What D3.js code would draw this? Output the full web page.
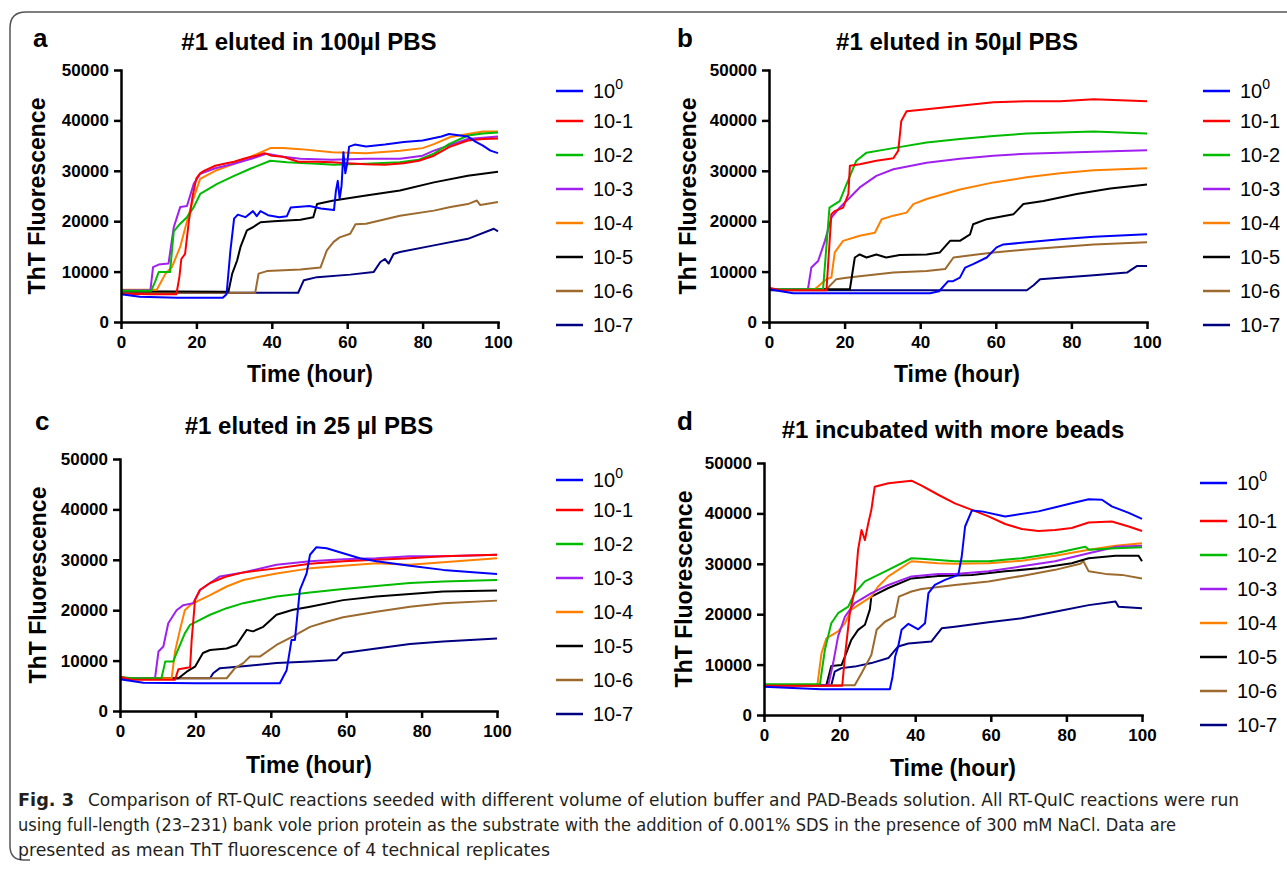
<!DOCTYPE html>
<html>
<head>
<meta charset="utf-8">
<style>
body { margin: 0; background: #fff; }
svg { display: block; }
</style>
</head>
<body>
<svg width="1287" height="871"></svg>
<script src="https://cdn.jsdelivr.net/npm/d3@7"></script>
<script>

var svg = d3.select("svg"),
    FONT = "'Liberation Sans', Arial, Helvetica, sans-serif",
    CAPTION_FONT = "'Liberation Sans Narrow', 'DejaVu Sans Condensed', 'Liberation Sans', sans-serif";

// legend order: 10^0, 10-1 ... 10-7
var doses = ["10", "10-1", "10-2", "10-3", "10-4", "10-5", "10-6", "10-7"],
    colors = ["#0000ff", "#ff0000", "#00bb00", "#a020f0", "#ff8000", "#000000", "#9c6a2e", "#000080"],
    xTicks = [0, 20, 40, 60, 80, 100],
    yTicks = [0, 10000, 20000, 30000, 40000, 50000],
    titles = ["#1 eluted in 100\u00b5l PBS", "#1 eluted in 50\u00b5l PBS",
              "#1 eluted in 25 \u00b5l PBS", "#1 incubated with more beads"];

// [hour, ThT fluorescence]
var panelA = [
  [[0,5500],[5,5000],[15,4800],[27,4800],[28,5500],[29,14000],[30,20500],[31,21300],[33,20800],[35,22000],[36,21000],[37,22000],[39,21200],[42,20800],[44,21000],[45,22700],[50,23000],[53,22500],[56.5,22200],[57,26000],[57.5,28000],[58,24500],[58.5,27000],[59,33700],[59.5,29500],[60,31500],[60.5,34800],[62,35200],[65,34800],[70,35200],[75,35700],[80,36000],[85,36800],[87,37300],[90,37000],[92,36800],[94,35800],[96,35000],[98,34000],[100,33500]],
  [[0,5600],[8,5500],[14.7,5500],[15.5,9000],[16,12500],[17,13500],[18,20000],[19,25000],[20,28500],[21,29500],[22,30000],[25,31000],[28,31500],[30,31800],[33,32500],[36,33000],[38,33500],[40,33000],[43,32800],[47,31800],[52,31800],[56,31700],[60,31500],[65,31300],[70,31200],[75,31500],[79,32000],[83,33000],[87,34700],[92,36000],[96,36300],[100,36400]],
  [[0,6200],[8,6200],[9,7900],[10,9900],[13,9900],[14,18000],[15.7,19500],[17.5,20800],[19.3,22800],[21,25400],[25.5,27400],[30,29000],[34.3,30400],[39.6,32000],[44,31700],[52,31400],[56.4,31200],[65,31400],[74,31700],[79,32200],[83,33400],[87,35300],[92,37000],[96,37400],[100,37600]],
  [[0,6300],[7.8,6300],[8.5,10900],[10,11400],[12.6,11600],[14,18800],[15.7,22800],[17.5,23000],[19.3,27400],[21,29400],[25,30500],[30,31400],[35,32500],[38.7,33400],[43,32800],[47.6,32400],[56,32200],[65,32400],[74,32400],[80,33000],[83,34000],[88,35300],[92,36300],[100,36800]],
  [[0,6400],[9.5,6400],[11.8,9600],[13.5,10900],[15.7,14900],[17.5,20000],[19,24000],[21,28400],[25,30000],[30,31400],[35,33000],[39.6,34500],[43,34500],[47.6,34300],[56,33700],[65,33500],[74,34000],[80,34500],[83,35300],[87.4,36700],[92,37300],[96,37800],[100,37800]],
  [[0,6100],[28.5,6000],[29.5,9600],[30.8,12200],[31.7,14900],[33.4,18200],[35,18800],[37,19800],[40.5,20000],[47.6,20300],[51,20800],[52,23400],[56.4,24100],[65,25100],[74,26100],[83,27700],[92,29000],[100,29800]],
  [[0,5800],[35.6,5800],[36.5,9600],[38.7,10100],[47.6,10400],[52.9,10800],[54.6,14200],[56.4,15900],[58,16800],[60.8,17500],[62.2,19400],[65,19500],[74,21100],[83,22100],[87.4,22800],[92,23400],[94.4,24100],[95.3,23200],[100,23800]],
  [[0,5800],[47,5800],[48.5,8300],[52,8900],[60.8,9400],[67,9900],[68.8,11900],[70,12500],[71,11600],[72.3,13500],[74,13900],[83,15200],[92,16500],[98.9,18500],[100,18000]]
];

var panelB = [
  [[0,6500],[6.4,5700],[20,5700],[42.6,5700],[45,6100],[47.4,8100],[48.7,8100],[50.5,8800],[51.9,10800],[54,11500],[57.6,12800],[60.2,14800],[62,15400],[68.2,15800],[77,16400],[85.9,16900],[100,17400]],
  [[0,6800],[3,6300],[15.2,6300],[16.5,21400],[17.4,22000],[19.6,22700],[21,25400],[21.4,31000],[24,31300],[28.4,32000],[32.9,32500],[34.2,34000],[35,39900],[36.4,41800],[41.7,42200],[50.5,42900],[59.4,43600],[68.2,43800],[77,43800],[85.9,44200],[100,43800]],
  [[0,6500],[14.3,6500],[16,22700],[18.7,24000],[20.5,27300],[23.1,32000],[25.8,33600],[32.9,34500],[41.7,35600],[50.5,36300],[59.4,36900],[68.2,37400],[77,37600],[85.9,37800],[100,37400]],
  [[0,6500],[10.3,6500],[11.2,10800],[13,12100],[14.8,16100],[16.5,20700],[18.7,22700],[21.4,24700],[24,26700],[28.4,29000],[32.9,30300],[41.7,31600],[50.5,32400],[59.4,33000],[68.2,33400],[77,33600],[85.9,33800],[100,34100]],
  [[0,6500],[12.1,6500],[15.2,8500],[16.5,8800],[17.4,13800],[19.6,16100],[24,17100],[28,17700],[29.8,20400],[32.9,21100],[36.4,21700],[38.2,23400],[41.7,24400],[50.5,26300],[59.4,27700],[68.2,28700],[77,29500],[85.9,30100],[100,30500]],
  [[0,6500],[21.4,6500],[22.7,12800],[24,13400],[25.8,12800],[28.4,13400],[31,12800],[34.6,13300],[41.7,13400],[45.2,13800],[47.9,16100],[50.5,16100],[53.2,17400],[54,19400],[57.6,20400],[64.7,21400],[67.3,23400],[72.6,24000],[81.4,25400],[90.3,26500],[100,27300]],
  [[0,6500],[15.2,6500],[17.8,8500],[20.5,8800],[24,9100],[32.9,9800],[41.7,10100],[46.6,10500],[48.8,12800],[55,13400],[59.4,13800],[68.2,14400],[77,14900],[85.9,15400],[100,15800]],
  [[0,6300],[68.2,6300],[70,7300],[71.7,8500],[77,8800],[85.9,9300],[94.7,9800],[97.3,11100],[100,11100]]
];

var panelC = [
  [[0,6300],[6.2,5600],[20,5500],[42.4,5500],[44.2,8100],[45.5,14100],[46.4,14100],[47.7,24000],[49.5,27300],[50.4,31000],[52.1,32500],[54.8,32300],[59.2,31300],[63.6,30300],[68,29700],[76.9,28800],[85.7,28000],[94.5,27500],[100,27200]],
  [[0,6800],[3,6200],[14.6,6200],[15.5,8300],[18.6,8700],[19,14000],[19.9,22000],[21.2,24000],[23.9,25400],[28.3,26700],[32.7,27500],[41.5,28300],[50.4,29200],[59.2,29700],[68,30000],[76.9,30300],[85.7,30700],[100,31000]],
  [[0,6800],[3,6500],[11,6500],[12,9800],[14.1,9800],[15,11500],[17.2,15400],[18.6,17100],[21.2,18100],[23.9,19100],[28.3,20400],[32.7,21400],[41.5,22700],[50.4,23500],[59.2,24200],[68,24800],[76.9,25400],[85.7,25700],[100,26000]],
  [[0,6500],[9.3,6500],[10.2,11800],[11.5,12800],[12.8,17400],[15,20000],[16.8,21000],[19.4,21400],[21.2,24000],[23.9,25400],[26.5,26700],[32.7,27500],[41.5,29000],[50.4,29700],[59.2,30100],[68,30300],[76.9,30700],[85.7,30700],[100,31000]],
  [[0,6500],[13.7,6500],[14.6,11800],[15.9,16100],[17.2,20000],[18.6,21000],[20.3,21700],[23.9,23000],[28.3,24700],[32.7,26000],[41.5,27300],[50.4,28300],[59.2,28800],[68,29300],[76.9,29000],[85.7,29500],[100,30300]],
  [[0,6500],[15.5,6500],[17.7,7800],[19.9,8800],[22,11500],[23.9,12100],[28.3,12400],[30.9,13100],[33.6,16100],[35.3,15800],[38,16700],[41.5,19100],[45.9,20100],[50.4,20700],[59.2,22000],[68,22700],[76.9,23200],[85.7,23700],[100,23900]],
  [[0,6500],[28.3,6500],[30.5,8500],[32.7,9500],[34.5,10800],[37.1,10800],[41.5,13100],[45.9,14800],[50.4,16700],[54.8,17700],[59.2,18600],[68,19700],[76.9,20700],[85.7,21400],[100,21900]],
  [[0,6500],[23.9,6500],[24.7,7500],[26.5,8500],[32.7,8900],[41.5,9500],[50.4,9800],[57.4,10100],[59.2,11500],[68,12400],[76.9,13300],[85.7,13800],[100,14400]]
];

var panelD = [
  [[0,5600],[15.2,5100],[33.3,5100],[34,7600],[34.7,11600],[35.5,13600],[36.4,16900],[38.2,18100],[40.8,17000],[42.6,18200],[43.5,24200],[45.2,25800],[47.9,26800],[51.4,27800],[52.3,31400],[53.2,37400],[55,40600],[57.6,40400],[63.8,39400],[72.6,40400],[81.4,42000],[85.9,42800],[89.4,42700],[92,41400],[96.5,40100],[100,38900]],
  [[0,5800],[20.7,5800],[21.4,11600],[22.7,20200],[24,24800],[24.9,32800],[25.8,36700],[26.7,34700],[27.6,38100],[28.4,40700],[29.3,45300],[32.9,46000],[39,46500],[41.7,45500],[46.1,43700],[50.5,42000],[55,40700],[59.4,39400],[63.8,37900],[68.2,36900],[72.6,36500],[77,36700],[81.4,37100],[85.9,38200],[92,38400],[96.5,37400],[100,36500]],
  [[0,6100],[14.8,6100],[16.1,12900],[17.8,18200],[19.6,20200],[22.3,21500],[24,24200],[26.7,26500],[32.9,28800],[39,31100],[41.7,31000],[50.5,30500],[59.4,30500],[68.2,31100],[77,32100],[85,33400],[86,32800],[93,33100],[100,33300]],
  [[0,5900],[17,5900],[18.3,10300],[19.6,15600],[21.4,19500],[24,22200],[28.4,24200],[32.9,25800],[39,27500],[46.1,28000],[50.5,28000],[59.4,28500],[68.2,29500],[77,30500],[85.9,32100],[93.3,33400],[100,33600]],
  [[0,5900],[14.1,5900],[15.2,12200],[16.5,15200],[19.6,16600],[21.4,18200],[23.1,20900],[28.4,23500],[30.2,25500],[32.9,27500],[39,30500],[46.1,30100],[50.5,30000],[59.4,30100],[68.2,30600],[77,31600],[85.9,32800],[93,33600],[100,34100]],
  [[0,5900],[16.5,5900],[17.8,9700],[20.5,9900],[21.4,11600],[23.1,14900],[24.9,16900],[26.7,17900],[28,20900],[28.4,23500],[32.9,25200],[39,27100],[46.1,27600],[55,27800],[63.8,28500],[72.6,29100],[81.4,30100],[85.9,31100],[93,31600],[99.1,31600],[100,30500]],
  [[0,5900],[24,5900],[25.8,8300],[28.4,11900],[29.8,16900],[32,18500],[34.6,19500],[35.7,23500],[39,24500],[41.7,25000],[50.5,25800],[59.4,26500],[68.2,27600],[77,28800],[83.7,30000],[84.5,30500],[85.9,28500],[90.3,28000],[94.7,27800],[100,27100]],
  [[0,5900],[17.8,5900],[18.7,8600],[20.5,9300],[24,9600],[28.4,10300],[32.9,11300],[35.5,13600],[38.2,14200],[44.3,14600],[47,17200],[50.5,17500],[59.4,18400],[68.2,19200],[77,20500],[85.9,21800],[93,22500],[93.8,21500],[100,21200]]
];

var captionLines = [
  "Comparison of RT-QuIC reactions seeded with different volume of elution buffer and PAD-Beads solution. All RT-QuIC reactions were run",
  "using full-length (23\u2013231) bank vole prion protein as the substrate with the addition of 0.001% SDS in the presence of 300 mM NaCl. Data are",
  "presented as mean ThT fluorescence of 4 technical replicates"
];

// layout of the four panels
var panels = [
  { letter: "a", title: titles[0], data: panelA, x: [121, 498], y: [322, 70], letterPos: [33, 47], titlePos: [309, 50], yLab: [45, 196], xLab: [310, 382], legX: 556, legY: [91, 121] },
  { letter: "b", title: titles[1], data: panelB, x: [769, 1147], y: [322, 70], letterPos: [677, 47], titlePos: [957, 50], yLab: [696, 196], xLab: [957, 382], legX: 1203, legY: [91, 121] },
  { letter: "c", title: titles[2], data: panelC, x: [120, 497], y: [711, 459], letterPos: [35, 430], titlePos: [309, 434], yLab: [46, 585], xLab: [309, 773], legX: 556, legY: [480, 510] },
  { letter: "d", title: titles[3], data: panelD, x: [764, 1142], y: [715, 463], letterPos: [677, 430], titlePos: [953, 438], yLab: [692, 589], xLab: [953, 776], legX: 1200, legY: [483, 521] }
];

// frame
svg.append("path")
    .attr("d", "M1287,12H26Q10,12,10,28V846Q10,860,24,860H30")
    .attr("fill", "none")
    .attr("stroke", "#555")
    .attr("stroke-width", 1.5);

panels.forEach(function(p) {
  var x = d3.scaleLinear().domain([0, 100]).range(p.x),
      y = d3.scaleLinear().domain([0, 50000]).range(p.y),
      g = svg.append("g");

  var line = d3.line()
      .x(function(d) { return x(d[0]); })
      .y(function(d) { return y(d[1]); });

  // draw 10-7 first so 10^0 ends on top
  var order = d3.range(p.data.length).reverse();
  g.append("g").selectAll("path")
    .data(order)
    .enter().append("path")
      .attr("d", function(i) { return line(p.data[i]); })
      .attr("fill", "none")
      .attr("stroke", function(i) { return colors[i]; })
      .attr("stroke-width", 2)
      .attr("stroke-linejoin", "round");

  var ya = g.append("g")
      .attr("transform", "translate(" + p.x[0] + ",0)")
      .call(d3.axisLeft(y).tickValues(yTicks).tickSize(7).tickSizeOuter(0).tickPadding(5).tickFormat(d3.format("d")));
  var xa = g.append("g")
      .attr("transform", "translate(0," + p.y[0] + ")")
      .call(d3.axisBottom(x).tickValues(xTicks).tickSize(7).tickSizeOuter(0).tickPadding(7));

  [ya, xa].forEach(function(a) {
    a.attr("font-family", FONT).attr("font-size", 17).attr("font-weight", "bold");
    a.select(".domain").attr("stroke-width", 2.5).attr("stroke-linecap", "square");
    a.selectAll(".tick line").attr("stroke-width", 2.5);
    a.selectAll(".tick text").attr("fill", "#000");
  });

  g.append("text")
      .attr("x", p.letterPos[0]).attr("y", p.letterPos[1])
      .attr("font-family", FONT).attr("font-size", 26).attr("font-weight", "bold")
      .text(p.letter);

  g.append("text")
      .attr("x", p.titlePos[0]).attr("y", p.titlePos[1])
      .attr("text-anchor", "middle")
      .attr("font-family", FONT).attr("font-size", 24).attr("font-weight", "bold")
      .text(p.title);

  g.append("text")
      .attr("transform", "translate(" + p.yLab[0] + "," + p.yLab[1] + ") rotate(-90)")
      .attr("text-anchor", "middle")
      .attr("font-family", FONT).attr("font-size", 23).attr("font-weight", "bold")
      .text("ThT Fluorescence");

  g.append("text")
      .attr("x", p.xLab[0]).attr("y", p.xLab[1])
      .attr("text-anchor", "middle")
      .attr("font-family", FONT).attr("font-size", 23).attr("font-weight", "bold")
      .text("Time (hour)");

  // legend
  var leg = g.append("g").selectAll("g")
    .data(doses)
    .enter().append("g")
      .attr("transform", function(d, i) {
        var yy = i === 0 ? p.legY[0] : p.legY[1] + (i - 1) * 34;
        return "translate(" + p.legX + "," + yy + ")";
      });

  leg.append("line")
      .attr("x1", 0).attr("x2", 27)
      .attr("stroke", function(d, i) { return colors[i]; })
      .attr("stroke-width", 2.5);

  var lt = leg.append("text")
      .attr("x", 37).attr("y", 7)
      .attr("font-family", FONT).attr("font-size", 20)
      .text(function(d) { return d; });
  lt.filter(function(d, i) { return i === 0; })
    .append("tspan")
      .attr("font-size", 14).attr("dy", -9)
      .text("0");
});

// caption
svg.append("text")
    .attr("x", 18).attr("y", 806)
    .attr("font-family", CAPTION_FONT).attr("font-size", 18).attr("font-weight", "bold")
    .attr("fill", "#231f20")
    .attr("textLength", 56).attr("lengthAdjust", "spacingAndGlyphs")
    .text("Fig. 3");

var capX = [88, 18, 18], capEnd = [1239, 1176, 550], capY = [806, 831, 856];
captionLines.forEach(function(t, i) {
  svg.append("text")
      .attr("x", capX[i]).attr("y", capY[i])
      .attr("font-family", CAPTION_FONT).attr("font-size", 18)
      .attr("fill", "#231f20")
      .attr("textLength", capEnd[i] - capX[i]).attr("lengthAdjust", "spacingAndGlyphs")
      .text(t);
});

</script>
</body>
</html>
